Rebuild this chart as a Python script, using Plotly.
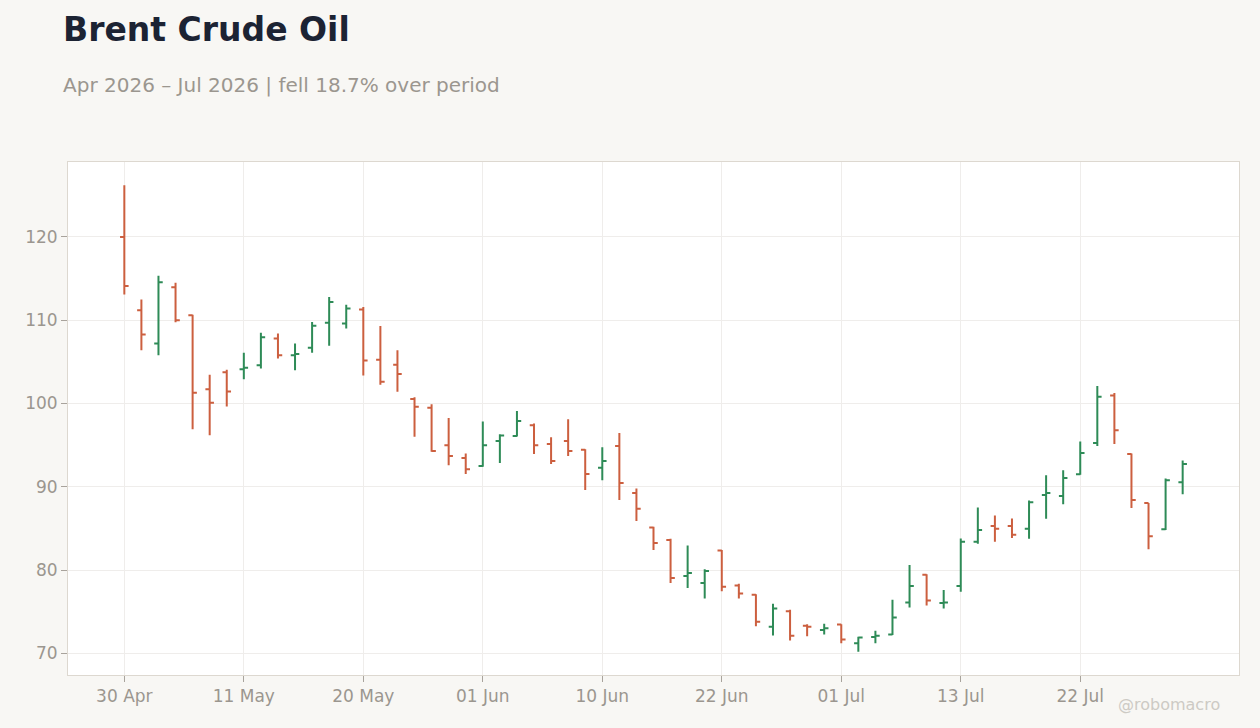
import plotly.graph_objects as go

# Daily Brent bars (NYSE calendar, holidays skipped)
dates = ["2026-04-30", "2026-05-01", "2026-05-04", "2026-05-05", "2026-05-06", "2026-05-07",
         "2026-05-08", "2026-05-11", "2026-05-12", "2026-05-13", "2026-05-14", "2026-05-15",
         "2026-05-18", "2026-05-19", "2026-05-20", "2026-05-21", "2026-05-22", "2026-05-26",
         "2026-05-27", "2026-05-28", "2026-05-29", "2026-06-01", "2026-06-02", "2026-06-03",
         "2026-06-04", "2026-06-05", "2026-06-08", "2026-06-09", "2026-06-10", "2026-06-11",
         "2026-06-12", "2026-06-15", "2026-06-16", "2026-06-17", "2026-06-18", "2026-06-22",
         "2026-06-23", "2026-06-24", "2026-06-25", "2026-06-26", "2026-06-29", "2026-06-30",
         "2026-07-01", "2026-07-02", "2026-07-06", "2026-07-07", "2026-07-08", "2026-07-09",
         "2026-07-10", "2026-07-13", "2026-07-14", "2026-07-15", "2026-07-16", "2026-07-17",
         "2026-07-20", "2026-07-21", "2026-07-22", "2026-07-23", "2026-07-24", "2026-07-27",
         "2026-07-28", "2026-07-29", "2026-07-30"]

open_ = [120.0, 111.2, 107.2, 113.95, 110.6, 101.7, 103.75, 104.1, 104.6, 107.8, 105.8,
         106.7, 109.7, 109.6, 111.3, 105.25, 104.65, 100.55, 99.5, 95.0, 93.45, 92.5,
         95.5, 96.1, 97.4, 95.15, 95.5, 94.45, 92.3, 94.9, 89.25, 85.1, 83.6, 79.3,
         78.45, 82.35, 78.15, 77.05, 73.2, 75.05, 73.3, 72.8, 73.45, 71.2, 71.95, 72.25,
         76.1, 79.45, 76.05, 78.1, 83.4, 85.3, 85.3, 84.95, 89.0, 88.9, 91.5, 95.25,
         100.95, 93.95, 88.05, 84.9, 90.55]
high = [126.2, 112.5, 115.35, 114.5, 110.65, 103.45, 104.05, 106.1, 108.5, 108.4, 107.2,
        109.8, 112.8, 111.85, 111.6, 109.3, 106.4, 100.75, 99.9, 98.25, 94.0, 97.85,
        96.3, 99.1, 97.6, 95.95, 98.1, 94.5, 94.75, 96.45, 89.8, 85.2, 83.75, 82.95,
        80.1, 82.4, 78.35, 77.1, 75.95, 75.25, 73.5, 73.55, 73.5, 72.0, 72.7, 76.45,
        80.6, 79.5, 77.6, 83.8, 87.5, 86.55, 86.2, 88.35, 91.4, 92.0, 95.45, 102.1,
        101.25, 94.0, 88.05, 91.0, 93.15]
low = [113.1, 106.4, 105.8, 109.75, 96.9, 96.2, 99.65, 102.9, 104.2, 105.4, 104.0,
       106.1, 106.95, 109.0, 103.35, 102.25, 101.4, 96.0, 94.2, 92.6, 91.55, 92.4,
       92.85, 96.05, 93.95, 92.75, 93.7, 89.6, 90.8, 88.4, 85.9, 82.4, 78.45, 77.85,
       76.6, 77.45, 76.6, 73.25, 72.15, 71.55, 72.05, 72.25, 71.2, 70.2, 71.2, 72.2,
       75.5, 75.75, 75.4, 77.4, 83.15, 83.4, 83.85, 83.75, 86.15, 87.9, 91.45, 94.9,
       95.15, 87.45, 82.5, 84.8, 89.1]
close = [114.1, 108.3, 114.55, 110.0, 101.3, 100.1, 101.45, 104.3, 107.95, 105.8, 105.95,
         109.35, 112.2, 111.4, 105.15, 102.6, 103.55, 99.6, 94.3, 93.7, 92.1, 95.0,
         96.15, 97.9, 95.0, 93.1, 94.3, 91.55, 93.1, 90.45, 87.35, 83.25, 79.05, 79.65,
         79.9, 78.0, 77.2, 73.8, 75.4, 72.1, 73.2, 73.0, 71.65, 71.9, 72.1, 74.3,
         78.1, 76.35, 76.1, 83.4, 84.8, 84.95, 84.25, 88.15, 89.25, 91.05, 94.05, 100.8,
         96.8, 88.4, 84.05, 90.8, 92.75]

# x ticks every 7 trading days
tick_dates = ["2026-04-30", "2026-05-11", "2026-05-20", "2026-06-01", "2026-06-10",
              "2026-06-22", "2026-07-01", "2026-07-13", "2026-07-22"]
tick_labels = ["30 Apr", "11 May", "20 May", "01 Jun", "10 Jun", "22 Jun", "01 Jul",
               "13 Jul", "22 Jul"]
y_ticks = [70, 80, 90, 100, 110, 120]

fig = go.Figure(go.Ohlc(
    x=dates, open=open_, high=high, low=low, close=close,
    increasing=dict(line=dict(color="#2e8b57", width=2)),
    decreasing=dict(line=dict(color="#cc5f3f", width=2)),
    tickwidth=0.25,
    showlegend=False,
))

axis_style = dict(
    showline=True, mirror=True, linecolor="#ddd8d0", linewidth=1,
    gridcolor="#efedeb", gridwidth=1,
    ticks="outside", ticklen=6, tickcolor="#a8a39c",
    tickfont=dict(family="DejaVu Sans", size=17, color="#9b968f"),
    zeroline=False,
)

fig.update_xaxes(type="category", tickmode="array", tickvals=tick_dates, ticktext=tick_labels,
                 range=[-3.3, 65.3], rangeslider=dict(visible=False), **axis_style)
fig.update_yaxes(tickmode="array", tickvals=y_ticks, range=[67.4, 129.0], **axis_style)

fig.update_layout(
    width=1260, height=728,
    paper_bgcolor="#f8f7f4", plot_bgcolor="#ffffff",
    margin=dict(l=68, r=21, t=162, b=53),
    font=dict(family="DejaVu Sans"),
    annotations=[
        dict(text="<b>Brent Crude Oil</b>", xref="paper", yref="paper", x=-0.006, y=1.258,
             xanchor="left", yanchor="middle", showarrow=False,
             font=dict(size=33, color="#1c2333")),
        dict(text="Apr 2026 – Jul 2026 | fell 18.7% over period", xref="paper", yref="paper",
             x=-0.006, y=1.151, xanchor="left", yanchor="middle", showarrow=False,
             font=dict(size=20, color="#9b968f")),
        dict(text="@robomacro", xref="paper", yref="paper", x=0.9855, y=-0.058,
             xanchor="right", yanchor="middle", showarrow=False,
             font=dict(size=16, color="#cdcac4")),
    ],
)

# drop the default page margin so the 1260x728 figure sits at the window origin
fig.write_html("out.html", config={"displayModeBar": False},
               post_script="document.body.style.margin='0px';")
